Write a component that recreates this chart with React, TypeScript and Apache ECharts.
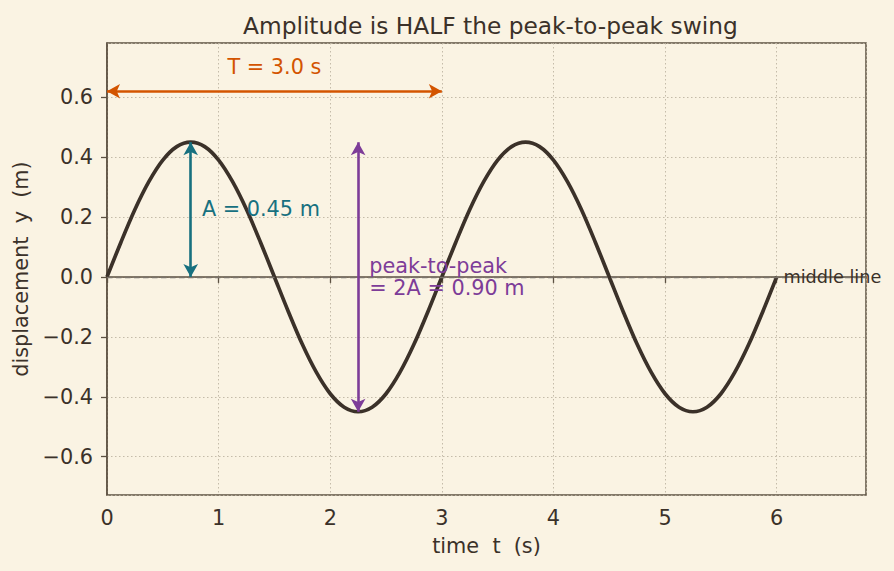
import React, { useEffect, useRef } from "react";
import * as echarts from "echarts";

// time samples (s)
const tValues = [
  0, 0.125, 0.25, 0.375, 0.5, 0.625, 0.75, 0.875, 1, 1.125, 1.25, 1.375, 1.5, 1.625, 1.75, 1.875,
  2, 2.125, 2.25, 2.375, 2.5, 2.625, 2.75, 2.875, 3, 3.125, 3.25, 3.375, 3.5, 3.625, 3.75, 3.875,
  4, 4.125, 4.25, 4.375, 4.5, 4.625, 4.75, 4.875, 5, 5.125, 5.25, 5.375, 5.5, 5.625, 5.75, 5.875, 6,
];
// displacement (m)
const yValues = [
  0, 0.116, 0.225, 0.318, 0.39, 0.435, 0.45, 0.435, 0.39, 0.318, 0.225, 0.116, 0, -0.116, -0.225,
  -0.318, -0.39, -0.435, -0.45, -0.435, -0.39, -0.318, -0.225, -0.116, 0, 0.116, 0.225, 0.318,
  0.39, 0.435, 0.45, 0.435, 0.39, 0.318, 0.225, 0.116, 0, -0.116, -0.225, -0.318, -0.39, -0.435,
  -0.45, -0.435, -0.39, -0.318, -0.225, -0.116, 0,
];

const xTicks = [0, 1, 2, 3, 4, 5, 6];
const yTicks = [-0.6, -0.4, -0.2, 0, 0.2, 0.4, 0.6];

// annotations: [t, y]
const periodArrow = [[0, 0.62], [3, 0.62]];
const ampArrow = [[0.75, 0], [0.75, 0.45]];
const p2pArrow = [[2.25, -0.45], [2.25, 0.45]];
const periodLabel = [1.5, 0.7, "T = 3.0 s"];
const ampLabel = [0.85, 0.227, "A = 0.45 m"];
const p2pLabel = [2.35, 0, "peak-to-peak\n= 2A = 0.90 m"];
const midLabel = [6.06, 0, "middle line"];

const FONT = "DejaVu Sans";
const INK = "#3b3129";
const AXIS = "#5c5142";
const ORANGE = "#d35400";
const TEAL = "#17707f";
const PURPLE = "#7d3c98";

function arrowSeries(pts: number[][], color: string) {
  return {
    type: "line",
    data: [],
    silent: true,
    markLine: {
      silent: true,
      symbol: ["arrow", "arrow"],
      symbolSize: [11, 13],
      label: { show: false },
      lineStyle: { color, width: 2.6, type: "solid", opacity: 1 },
      data: [[{ coord: pts[0] }, { coord: pts[1] }]],
    },
    z: 4,
  };
}

function textSeries(l: any[], color: string, size: number, align: string) {
  return {
    type: "scatter",
    symbolSize: 0,
    silent: true,
    itemStyle: { opacity: 1 },
    data: [[l[0], l[1]]],
    z: 5,
    label: {
      show: true,
      position: "inside",
      align,
      verticalAlign: "middle",
      formatter: () => l[2],
      color,
      opacity: 1,
      fontSize: size,
      fontFamily: FONT,
      lineHeight: size * 1.1,
    },
  };
}

export default function App() {
  const ref = useRef<HTMLDivElement>(null);
  useEffect(() => {
    const chart = echarts.init(ref.current!, null, { renderer: "svg" });
    chart.setOption({
      animation: false,
      backgroundColor: "#faf3e3",
      title: {
        text: "Amplitude is HALF the peak-to-peak swing",
        left: 238,
        top: 9,
        textStyle: { color: INK, fontSize: 23.3, fontWeight: "normal", fontFamily: FONT },
      },
      grid: {
        left: 107,
        right: 28,
        top: 43,
        bottom: 76,
        show: true,
        borderColor: AXIS,
        borderWidth: 1.5,
        backgroundColor: "transparent",
      },
      xAxis: {
        type: "value",
        min: 0,
        max: 6.8,
        interval: 1,
        name: "time  t  (s)",
        nameLocation: "middle",
        nameGap: 40,
        nameTextStyle: { color: INK, fontSize: 20.8, fontFamily: FONT },
        axisLine: { show: true, lineStyle: { color: AXIS, width: 1.5 } },
        axisTick: { show: true, length: 6, lineStyle: { color: AXIS, width: 1.3 } },
        axisLabel: {
          color: INK,
          fontSize: 20.8,
          fontFamily: FONT,
          margin: 12,
          showMaxLabel: false,
          formatter: (v: number) => (xTicks.includes(v) ? String(v) : ""),
        },
        splitLine: { show: true, lineStyle: { color: "#bdb4a3", width: 0.9, type: [1.5, 2.5] } },
      },
      yAxis: {
        type: "value",
        min: -0.728,
        max: 0.781,
        splitNumber: 8,
        name: "displacement  y  (m)",
        nameLocation: "middle",
        nameGap: 72,
        nameTextStyle: { color: INK, fontSize: 20.8, fontFamily: FONT },
        axisLine: { show: true, lineStyle: { color: AXIS, width: 1.5 } },
        axisTick: { show: true, length: 6, lineStyle: { color: AXIS, width: 1.3 } },
        axisLabel: {
          color: INK,
          fontSize: 20.8,
          fontFamily: FONT,
          margin: 14,
          showMinLabel: false,
          showMaxLabel: false,
          formatter: (v: number) => {
            const r = Math.round(v * 10) / 10;
            if (!yTicks.some((t) => Math.abs(t - v) < 1e-6)) return "";
            return (r < 0 ? "\u2212" : "") + Math.abs(r).toFixed(1);
          },
        },
        splitLine: { show: true, lineStyle: { color: "#bdb4a3", width: 0.9, type: [1.5, 2.5] } },
      },
      series: [
        {
          type: "line",
          data: [],
          silent: true,
          markLine: {
            silent: true,
            symbol: ["none", "none"],
            label: { show: false },
            lineStyle: { color: "#7a736b", width: 1.4, type: [5.5, 3.5], opacity: 1 },
            data: [{ yAxis: 0 }],
          },
          z: 2,
        },
        {
          type: "line",
          data: tValues.map((t, i) => [t, yValues[i]]),
          showSymbol: false,
          smooth: 0.3,
          lineStyle: { color: INK, width: 3.7 },
          z: 3,
        },
        arrowSeries(periodArrow, ORANGE),
        arrowSeries(ampArrow, TEAL),
        arrowSeries(p2pArrow, PURPLE),
        textSeries(periodLabel, ORANGE, 20.8, "center"),
        textSeries(ampLabel, TEAL, 20.8, "left"),
        textSeries(p2pLabel, PURPLE, 20.8, "left"),
        textSeries(midLabel, INK, 17.7, "left"),
      ],
    });
    return () => chart.dispose();
  }, []);
  return <div ref={ref} style={{ position: "fixed", left: 0, top: 0, width: 894, height: 571 }} />;
}
